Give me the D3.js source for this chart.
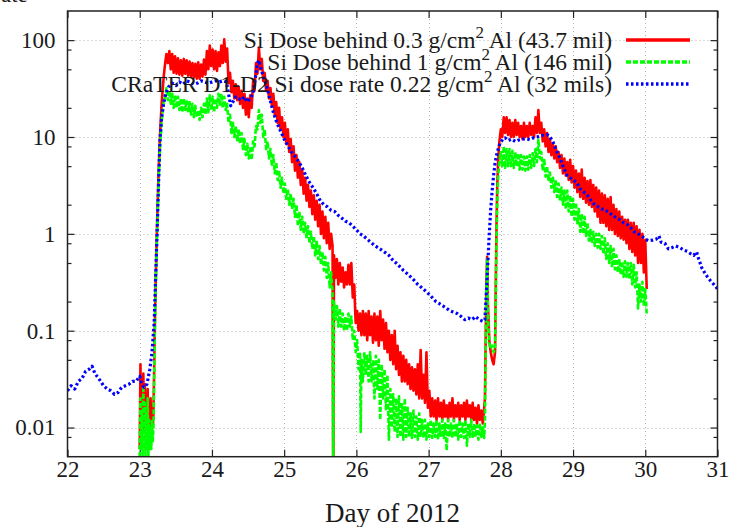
<!DOCTYPE html>
<html><head><meta charset="utf-8">
<script src="https://cdn.jsdelivr.net/npm/d3@7"></script>
<style>
body{margin:0;background:#fff}
svg{display:block}
text{font-family:"Liberation Serif","Times New Roman",serif;fill:#1a1a1a}
</style>
</head><body>
<svg id="chart" width="737" height="527"></svg>
<script>
// ---------------- data ----------------
const xTicks = [22,23,24,25,26,27,28,29,30,31];
const yMajorTicks = [0.01,0.1,1,10,100];
const yTickLabels = ["0.01","0.1","1","10","100"];
const yMinorTicks = [0.008,0.02,0.05,0.08,0.2,0.5,0.8,2,5,8,20,50,80];
const xTitle = "Day of 2012";
const legendLabels = [
  "Si Dose behind 0.3 g/cm^2 Al (43.7 mil)",
  "Si Dose behind 1 g/cm^2 Al (146 mil)",
  "CRaTER D1-D2 Si dose rate 0.22 g/cm^2 Al (32 mils)"
];

const redSeries = [
[23.00,0.006],[23.01,0.045],[23.02,0.011],[23.03,0.032],[23.04,0.014],[23.05,0.036],[23.06,0.009],[23.07,0.028],[23.08,0.012],[23.09,0.022],
[23.10,0.01],[23.11,0.025],[23.12,0.008],[23.13,0.018],[23.14,0.011],[23.15,0.02],[23.16,0.01],[23.17,0.016],[23.18,0.01],[23.19,0.014],
[23.20,0.04],[23.21,0.12],[23.22,0.3],[23.23,0.6],[23.24,1.2],[23.25,2.2],[23.26,4],[23.27,6.5],[23.28,10],[23.29,14],[23.30,20],[23.31,26],[23.32,32],[23.33,40],[23.34,48],[23.35,56],[23.36,64],[23.37,72],
[23.39,58],[23.41,77],[23.43,50],[23.45,72],[23.47,46],[23.49,68],[23.51,45],[23.53,65],[23.55,44],[23.57,62],[23.59,43],[23.61,64],[23.63,45],[23.65,62],[23.67,43],[23.69,60],[23.71,42],[23.73,58],[23.75,41],[23.77,57],[23.79,40],[23.81,59],[23.83,40],[23.85,56],[23.87,42],[23.89,63],[23.91,44],[23.93,77],[23.95,50],[23.97,88],[23.99,54],
[24.01,80],[24.03,50],[24.05,77],[24.07,48],[24.09,75],[24.11,54],[24.13,88],[24.15,58],[24.17,102],[24.19,60],[24.21,82],[24.23,36],[24.25,46],[24.27,29],[24.29,38],[24.31,25],[24.33,35],[24.35,24],[24.37,33],[24.39,22],[24.41,30],[24.43,20],[24.45,28],[24.47,17],[24.49,25],[24.51,16],[24.53,27],[24.55,20],[24.57,38],[24.59,30],[24.61,58],[24.63,45],[24.65,84],[24.67,50],[24.69,64],[24.71,38],[24.73,46],[24.75,30],[24.77,38],[24.79,25],[24.81,32],[24.83,21],[24.85,28],[24.87,17],[24.89,23],[24.91,14],[24.93,20],[24.95,12],[24.97,16],[24.99,10],
[25.01,14],[25.03,8.5],[25.05,12],[25.07,7],[25.09,9.5],[25.11,5.5],[25.13,8],[25.15,4.5],[25.17,6.5],[25.19,3.8],[25.21,5.5],[25.23,3.2],[25.25,4.5],[25.27,2.6],[25.29,3.8],[25.31,2.2],[25.33,3.2],[25.35,1.9],[25.37,2.8],[25.39,1.6],[25.41,2.5],[25.43,1.4],[25.45,2.2],[25.47,1.2],[25.49,2.0],[25.51,1.0],[25.53,1.7],[25.55,0.9],[25.57,1.5],[25.59,0.8],[25.61,1.3],[25.63,0.7],[25.65,1.0],[25.67,0.75],[25.68,0.002],[25.69,0.6],[25.71,0.35],[25.73,0.55],[25.75,0.3],[25.77,0.5],[25.79,0.32],[25.81,0.45],[25.83,0.28],[25.85,0.4],[25.87,0.3],[25.89,0.48],[25.91,0.3],[25.93,0.5],[25.95,0.22],[25.97,0.3],[25.99,0.12],
[26.01,0.16],[26.03,0.1],[26.05,0.15],[26.07,0.09],[26.09,0.16],[26.11,0.09],[26.13,0.15],[26.15,0.08],[26.17,0.16],[26.19,0.09],[26.21,0.14],[26.23,0.075],[26.25,0.15],[26.27,0.08],[26.29,0.14],[26.31,0.07],[26.33,0.16],[26.35,0.08],[26.37,0.13],[26.39,0.065],[26.41,0.12],[26.43,0.06],[26.45,0.1],[26.47,0.05],[26.49,0.09],[26.51,0.045],[26.53,0.1],[26.55,0.04],[26.57,0.07],[26.59,0.035],[26.61,0.06],[26.63,0.03],[26.65,0.055],[26.67,0.03],[26.69,0.05],[26.71,0.028],[26.73,0.045],[26.75,0.025],[26.77,0.042],[26.79,0.024],[26.81,0.04],[26.83,0.022],[26.85,0.045],[26.87,0.02],[26.89,0.063],[26.91,0.02],[26.93,0.035],[26.95,0.018],[26.97,0.06],[26.99,0.016],
[27.01,0.024],[27.03,0.013],[27.05,0.02],[27.07,0.013],[27.09,0.019],[27.11,0.012],[27.13,0.02],[27.15,0.013],[27.17,0.018],[27.19,0.012],[27.21,0.019],[27.23,0.013],[27.25,0.017],[27.27,0.012],[27.29,0.018],[27.31,0.013],[27.33,0.02],[27.35,0.012],[27.37,0.017],[27.39,0.013],[27.41,0.018],[27.43,0.012],[27.45,0.017],[27.47,0.013],[27.49,0.018],[27.51,0.012],[27.53,0.019],[27.55,0.013],[27.57,0.017],[27.59,0.012],[27.61,0.018],[27.63,0.012],[27.65,0.016],[27.67,0.011],[27.69,0.017],[27.71,0.012],[27.73,0.015],[27.75,0.011],[27.77,0.016],[27.78,0.02],[27.80,0.3],[27.81,0.58],[27.82,0.2],[27.84,0.08],[27.86,0.06],[27.88,0.05],[27.90,0.045],[27.92,0.06],[27.93,0.3],[27.94,1.2],[27.95,3],[27.96,5],[27.97,7],[27.98,9],
[28.00,12],[28.02,10],[28.04,16],[28.06,11],[28.08,16],[28.10,10.5],[28.12,15],[28.14,10],[28.16,14],[28.18,10],[28.20,15],[28.22,10.5],[28.24,14],[28.26,10],[28.28,13],[28.30,9.5],[28.32,14],[28.34,10],[28.36,13],[28.38,10],[28.40,14],[28.42,10.5],[28.44,13],[28.46,10],[28.48,16],[28.50,11],[28.52,19],[28.54,11],[28.56,14],[28.58,9],[28.60,12],[28.62,8],[28.64,11],[28.66,7],[28.68,9.5],[28.70,6.5],[28.72,8.5],[28.74,6],[28.76,8],[28.78,5.5],[28.80,7],[28.82,4.8],[28.84,6.5],[28.86,4.2],[28.88,6],[28.90,4],[28.92,5.5],[28.94,3.6],[28.96,5.8],[28.98,3.4],
[29.00,5],[29.02,3],[29.04,4.5],[29.06,2.7],[29.08,4.2],[29.10,2.4],[29.12,4.6],[29.14,2.3],[29.16,3.8],[29.18,2.1],[29.20,3.5],[29.22,2.0],[29.24,3.6],[29.26,1.9],[29.28,3.2],[29.30,1.7],[29.32,3],[29.34,1.5],[29.36,2.8],[29.38,1.3],[29.40,2.6],[29.42,1.3],[29.44,2.5],[29.46,1.2],[29.48,2.3],[29.50,1.1],[29.52,2.4],[29.54,1.1],[29.56,2],[29.58,1.0],[29.60,1.8],[29.62,0.95],[29.64,1.7],[29.66,0.9],[29.68,1.5],[29.70,0.87],[29.72,1.4],[29.74,0.8],[29.76,1.4],[29.78,0.7],[29.80,1.3],[29.82,0.65],[29.84,1.3],[29.86,0.6],[29.88,1.2],[29.90,0.5],[29.92,1.1],[29.94,0.5],[29.96,1.0],[29.98,0.4],[30.00,0.87],[30.02,0.27]
];

const greenSeries = [
[23.00,0.005],[23.01,0.02],[23.02,0.006],[23.03,0.015],[23.04,0.005],[23.05,0.027],[23.06,0.006],[23.07,0.018],[23.08,0.005],[23.09,0.014],
[23.10,0.006],[23.11,0.02],[23.12,0.005],[23.13,0.012],[23.14,0.006],[23.15,0.01],[23.16,0.006],[23.17,0.012],[23.18,0.007],[23.19,0.01],
[23.20,0.03],[23.21,0.1],[23.22,0.25],[23.23,0.5],[23.24,1.0],[23.25,1.8],[23.26,3],[23.27,5],[23.28,7.5],[23.29,10],[23.30,13],[23.31,16],[23.32,19],[23.33,22],[23.35,26],[23.37,32],
[23.39,24],[23.41,30],[23.43,22],[23.45,28],[23.47,20],[23.49,27],[23.51,20],[23.53,26],[23.55,19],[23.57,25],[23.59,18],[23.61,25],[23.63,19],[23.65,24],[23.67,18],[23.69,23],[23.71,17],[23.73,22],[23.75,16],[23.77,21],[23.79,16],[23.81,19],[23.83,15],[23.85,20],[23.87,16],[23.89,22],[23.91,17],[23.93,25],[23.95,18],[23.97,27],[23.99,19],
[24.01,26],[24.03,18],[24.05,25],[24.07,20],[24.09,28],[24.11,21],[24.13,28],[24.15,20],[24.17,26],[24.19,19],[24.21,22],[24.23,14],[24.25,17],[24.27,11],[24.29,14],[24.31,10],[24.33,13],[24.35,9],[24.37,12],[24.39,8.5],[24.41,11],[24.43,7.5],[24.45,9.5],[24.47,6.5],[24.49,8.5],[24.51,6],[24.53,8],[24.55,5.8],[24.57,9],[24.59,8],[24.61,13],[24.63,12],[24.65,19],[24.67,14],[24.69,17],[24.71,10],[24.73,12],[24.75,7.5],[24.77,9],[24.79,6],[24.81,7.5],[24.83,5],[24.85,6.5],[24.87,4.2],[24.89,5.5],[24.91,3.6],[24.93,4.5],[24.95,3.0],[24.97,3.8],[24.99,2.6],
[25.01,3.3],[25.03,2.3],[25.05,2.9],[25.07,2.0],[25.09,2.6],[25.11,1.8],[25.13,2.3],[25.15,1.5],[25.17,2.0],[25.19,1.2],[25.21,1.7],[25.23,1.1],[25.25,1.5],[25.27,1.0],[25.29,1.3],[25.31,0.9],[25.33,1.2],[25.35,0.8],[25.37,1.05],[25.39,0.7],[25.41,0.95],[25.43,0.6],[25.45,0.85],[25.47,0.55],[25.49,0.75],[25.51,0.48],[25.53,0.65],[25.55,0.42],[25.57,0.58],[25.59,0.35],[25.61,0.5],[25.63,0.28],[25.65,0.4],[25.67,0.25],[25.68,0.002],[25.69,0.2],[25.71,0.13],[25.73,0.18],[25.75,0.11],[25.77,0.17],[25.79,0.11],[25.81,0.15],[25.83,0.1],[25.85,0.14],[25.87,0.1],[25.89,0.15],[25.91,0.11],[25.93,0.14],[25.95,0.08],[25.97,0.1],[25.99,0.06],
[26.01,0.08],[26.03,0.04],[26.05,0.06],[26.06,0.009],[26.07,0.05],[26.09,0.03],[26.11,0.06],[26.13,0.035],[26.15,0.055],[26.17,0.03],[26.19,0.06],[26.21,0.03],[26.23,0.05],[26.25,0.02],[26.27,0.055],[26.29,0.025],[26.31,0.05],[26.33,0.012],[26.35,0.045],[26.37,0.02],[26.39,0.04],[26.41,0.015],[26.43,0.035],[26.45,0.0075],[26.47,0.025],[26.49,0.01],[26.51,0.022],[26.53,0.009],[26.55,0.02],[26.57,0.008],[26.59,0.021],[26.61,0.008],[26.63,0.018],[26.65,0.0075],[26.67,0.02],[26.69,0.008],[26.71,0.016],[26.73,0.008],[26.75,0.014],[26.77,0.0078],[26.79,0.015],[26.81,0.008],[26.83,0.013],[26.85,0.0075],[26.87,0.014],[26.89,0.008],[26.91,0.012],[26.93,0.0078],[26.95,0.012],[26.97,0.0075],[26.99,0.011],
[27.01,0.008],[27.03,0.012],[27.05,0.0078],[27.07,0.011],[27.09,0.008],[27.11,0.012],[27.13,0.0075],[27.15,0.011],[27.17,0.008],[27.19,0.012],[27.21,0.0078],[27.23,0.011],[27.25,0.0058],[27.27,0.012],[27.29,0.008],[27.31,0.011],[27.33,0.0078],[27.35,0.012],[27.37,0.008],[27.39,0.011],[27.41,0.0075],[27.43,0.012],[27.45,0.008],[27.47,0.011],[27.49,0.0078],[27.51,0.012],[27.53,0.0065],[27.55,0.011],[27.57,0.008],[27.59,0.012],[27.61,0.0078],[27.63,0.011],[27.65,0.008],[27.67,0.0105],[27.69,0.0075],[27.71,0.011],[27.73,0.008],[27.75,0.01],[27.77,0.0078],[27.78,0.012],[27.80,0.25],[27.81,0.55],[27.82,0.15],[27.84,0.075],[27.86,0.065],[27.88,0.07],[27.90,0.06],[27.92,0.065],[27.93,0.2],[27.94,0.8],[27.95,2],[27.96,3.5],[27.97,4.5],[27.98,5.5],
[28.00,7],[28.02,5],[28.04,8],[28.06,4.8],[28.08,7.5],[28.10,5],[28.12,7.5],[28.14,5],[28.16,7.2],[28.18,4.8],[28.20,7],[28.22,5],[28.24,6.8],[28.26,4.6],[28.28,6.5],[28.30,4.6],[28.32,6.3],[28.34,4.5],[28.36,6.3],[28.38,4.6],[28.40,6.5],[28.42,4.8],[28.44,6.8],[28.46,5],[28.48,7.5],[28.50,5.5],[28.52,9.4],[28.54,6],[28.56,7],[28.58,4.5],[28.60,6],[28.62,3.9],[28.64,5],[28.66,3.5],[28.68,4.3],[28.70,3],[28.72,3.9],[28.74,2.7],[28.76,3.6],[28.78,2.4],[28.80,3.3],[28.82,2.2],[28.84,3.0],[28.86,2.0],[28.88,2.8],[28.90,1.8],[28.92,2.8],[28.94,1.7],[28.96,2.5],[28.98,1.5],
[29.00,2.3],[29.02,1.4],[29.04,2.1],[29.06,1.25],[29.08,1.8],[29.10,1.05],[29.12,1.6],[29.14,1.0],[29.16,1.5],[29.18,0.95],[29.20,1.3],[29.22,0.85],[29.24,1.1],[29.26,0.8],[29.28,1.05],[29.30,0.75],[29.32,1.0],[29.34,0.72],[29.36,1.0],[29.38,0.7],[29.40,0.95],[29.42,0.62],[29.44,0.9],[29.46,0.55],[29.48,0.8],[29.50,0.5],[29.52,0.75],[29.54,0.45],[29.56,0.7],[29.58,0.43],[29.60,0.6],[29.62,0.4],[29.64,0.55],[29.66,0.38],[29.68,0.52],[29.70,0.36],[29.72,0.52],[29.74,0.36],[29.76,0.5],[29.78,0.34],[29.80,0.5],[29.82,0.3],[29.84,0.48],[29.86,0.28],[29.88,0.4],[29.90,0.17],[29.92,0.3],[29.94,0.2],[29.96,0.32],[29.98,0.18],[30.00,0.27],[30.02,0.15]
];

const blueSeries = [
[22.00,0.024],[22.05,0.027],[22.10,0.025],[22.15,0.03],[22.20,0.032],[22.25,0.038],[22.30,0.04],[22.34,0.043],[22.38,0.036],[22.42,0.033],[22.46,0.03],[22.50,0.027],[22.55,0.025],[22.60,0.024],[22.65,0.022],[22.70,0.023],[22.75,0.026],[22.80,0.027],[22.85,0.028],[22.90,0.03],[22.95,0.03],
[23.00,0.034],[23.03,0.028],[23.06,0.026],[23.10,0.028],[23.14,0.04],[23.17,0.06],[23.20,0.12],[23.22,0.35],[23.24,1.0],[23.26,3.2],[23.28,9],[23.30,15],[23.33,22],[23.36,28],[23.40,33],[23.45,36],[23.50,34],[23.55,37],[23.60,35],[23.65,38],[23.70,37],[23.75,35],[23.80,36],[23.85,38],[23.90,37],[23.95,36],
[24.00,37],[24.05,38],[24.10,37],[24.15,38],[24.20,37],[24.23,28],[24.26,21],[24.29,23],[24.33,26],[24.37,25],[24.41,24],[24.45,26],[24.49,23],[24.53,25],[24.57,28],[24.60,40],[24.63,58],[24.65,62],[24.68,50],[24.72,40],[24.76,33],[24.80,25],[24.85,18],[24.90,14],[24.95,11.5],
[25.00,9.5],[25.05,8.2],[25.10,7],[25.15,6.3],[25.20,5.6],[25.25,4.8],[25.30,4],[25.35,3.4],[25.40,3.0],[25.45,2.6],[25.50,2.2],[25.55,2.0],[25.60,1.9],[25.65,1.75],[25.70,1.7],[25.75,1.55],[25.80,1.45],[25.85,1.35],[25.90,1.3],[25.95,1.2],
[26.00,1.1],[26.05,1.0],[26.10,0.95],[26.15,0.88],[26.20,0.82],[26.25,0.76],[26.30,0.72],[26.35,0.68],[26.40,0.64],[26.45,0.6],[26.50,0.54],[26.55,0.5],[26.60,0.46],[26.65,0.42],[26.70,0.39],[26.75,0.36],[26.80,0.33],[26.85,0.3],[26.90,0.28],[26.95,0.26],
[27.00,0.24],[27.05,0.22],[27.10,0.2],[27.15,0.19],[27.20,0.18],[27.25,0.17],[27.30,0.16],[27.35,0.155],[27.40,0.15],[27.45,0.14],[27.50,0.13],[27.55,0.135],[27.60,0.13],[27.65,0.14],[27.70,0.13],[27.75,0.125],[27.78,0.13],[27.80,0.25],[27.82,0.5],[27.84,1.0],[27.86,1.8],[27.88,2.8],[27.90,4],[27.92,5.4],[27.95,7],[27.99,8.7],
[28.03,9.5],[28.06,9.8],[28.10,9.2],[28.15,9.5],[28.20,9.0],[28.25,9.3],[28.30,9.5],[28.35,9.6],[28.40,9.4],[28.45,9.8],[28.50,10],[28.55,10.3],[28.60,10.5],[28.64,10.6],[28.68,10],[28.72,9],[28.76,7.5],[28.80,6.5],[28.84,5.5],[28.88,4.6],[28.92,4.0],[28.96,3.8],
[29.00,3.6],[29.05,3.4],[29.10,2.9],[29.15,2.7],[29.20,2.5],[29.25,2.2],[29.30,2.0],[29.35,1.9],[29.40,1.8],[29.45,1.75],[29.50,1.65],[29.55,1.55],[29.60,1.45],[29.65,1.4],[29.70,1.3],[29.75,1.25],[29.80,1.15],[29.85,1.05],[29.90,1.0],[29.95,0.95],
[30.00,0.88],[30.05,0.85],[30.10,0.86],[30.15,0.88],[30.19,0.95],[30.22,0.82],[30.27,0.8],[30.32,0.7],[30.37,0.72],[30.42,0.75],[30.48,0.72],[30.53,0.68],[30.58,0.66],[30.62,0.63],[30.67,0.6],[30.71,0.65],[30.74,0.55],[30.78,0.45],[30.82,0.4],[30.86,0.36],[30.90,0.33],[30.95,0.3],[31.00,0.27]
];

// ---------------- drawing ----------------
const FONT = '"Liberation Serif","Times New Roman",serif';
const svg = d3.select("#chart");
const plot = {left: 67.5, right: 717.5, top: 11, bottom: 456.7};

const x = d3.scaleLinear().domain([22, 31]).range([plot.left, plot.right]);
const y = d3.scaleLog().domain([0.005, 200]).range([plot.bottom, plot.top]);

// grid
const grid = svg.append("g").attr("stroke", "#b4b4b4").attr("stroke-width", 1).attr("stroke-dasharray", "1,3");
grid.selectAll("line.gx").data(xTicks.slice(1, -1)).enter().append("line")
  .attr("x1", d => Math.round(x(d)) + 0.5).attr("x2", d => Math.round(x(d)) + 0.5)
  .attr("y1", plot.top).attr("y2", plot.bottom);
grid.selectAll("line.gy").data(yMajorTicks).enter().append("line")
  .attr("y1", d => Math.round(y(d)) + 0.5).attr("y2", d => Math.round(y(d)) + 0.5)
  .attr("x1", plot.left).attr("x2", plot.right);

// axes
const tickFont = 23;
function styleAxis(g) {
  g.attr("font-family", FONT).attr("font-size", tickFont);
  g.select(".domain").remove();
  g.selectAll(".tick line").attr("stroke", "#222").attr("stroke-width", 1.2);
  g.selectAll(".tick text").attr("fill", "#1a1a1a")
    .attr("font-family", FONT).attr("font-size", tickFont);
}
svg.append("g").attr("transform", `translate(0,${plot.bottom})`)
  .call(d3.axisBottom(x).tickValues(xTicks).tickFormat(d3.format("d")).tickSize(-7).tickPadding(4))
  .call(styleAxis);
svg.append("g").attr("transform", `translate(0,${plot.top})`)
  .call(d3.axisTop(x).tickValues(xTicks).tickFormat("").tickSize(-7))
  .call(styleAxis);
svg.append("g").attr("transform", `translate(${plot.left},0)`)
  .call(d3.axisLeft(y).tickValues(yMajorTicks).tickFormat((d, i) => yTickLabels[i]).tickSize(-7).tickPadding(12))
  .call(styleAxis);
svg.append("g").attr("transform", `translate(${plot.left},0)`)
  .call(d3.axisLeft(y).tickValues(yMinorTicks).tickFormat("").tickSize(-4))
  .call(styleAxis);
svg.append("g").attr("transform", `translate(${plot.right},0)`)
  .call(d3.axisRight(y).tickValues(yMajorTicks).tickFormat("").tickSize(-7))
  .call(styleAxis);
svg.append("g").attr("transform", `translate(${plot.right},0)`)
  .call(d3.axisRight(y).tickValues(yMinorTicks).tickFormat("").tickSize(-4))
  .call(styleAxis);

// x title
svg.append("text").attr("x", (plot.left + plot.right) / 2).attr("y", 522)
  .attr("text-anchor", "middle").attr("font-family", FONT).attr("font-size", 27).text(xTitle);
// clipped fragment of a label at the top-left corner
svg.append("text").attr("x", 1).attr("y", 2).attr("font-family", FONT).attr("font-size", 23).text("ate");

// clip
svg.append("defs").append("clipPath").attr("id", "clip").append("rect")
  .attr("x", plot.left).attr("y", plot.top)
  .attr("width", plot.right - plot.left).attr("height", plot.bottom - plot.top);

const line = d3.line().x(d => x(d[0])).y(d => y(d[1]));
const styles = [
  {color: "#ff0000", width: 2.6, dash: null},
  {color: "#00ff00", width: 2.6, dash: "5,2"},
  {color: "#0000ff", width: 3.2, dash: "2.5,2.5"}
];
const allSeries = [redSeries, greenSeries, blueSeries];
const lines = svg.append("g").attr("clip-path", "url(#clip)");
allSeries.forEach((s, i) => {
  lines.append("path").datum(s).attr("d", line)
    .attr("fill", "none").attr("stroke", styles[i].color)
    .attr("stroke-width", styles[i].width)
    .attr("stroke-linejoin", "round")
    .attr("stroke-dasharray", styles[i].dash);
});

// frame
svg.append("rect").attr("x", plot.left).attr("y", plot.top)
  .attr("width", plot.right - plot.left).attr("height", plot.bottom - plot.top)
  .attr("fill", "none").attr("stroke", "#222").attr("stroke-width", 1.5);

// legend
const legendFont = 23.5;
const legend = svg.append("g");
const rowY = [40, 62, 84];
legendLabels.forEach((lab, i) => {
  const parts = lab.split("^");
  const t = legend.append("text").attr("x", 612).attr("y", rowY[i] + 8)
    .attr("text-anchor", "end").attr("font-family", FONT).attr("font-size", legendFont);
  t.append("tspan").text(parts[0]);
  t.append("tspan").attr("dy", -10).attr("font-size", 17).text(parts[1][0]);
  t.append("tspan").attr("dy", 10).text(parts[1].slice(1));
  legend.append("line").attr("x1", 626).attr("x2", 690).attr("y1", rowY[i]).attr("y2", rowY[i])
    .attr("stroke", styles[i].color).attr("stroke-width", 3.5)
    .attr("stroke-dasharray", styles[i].dash);
});
</script>
</body></html>
